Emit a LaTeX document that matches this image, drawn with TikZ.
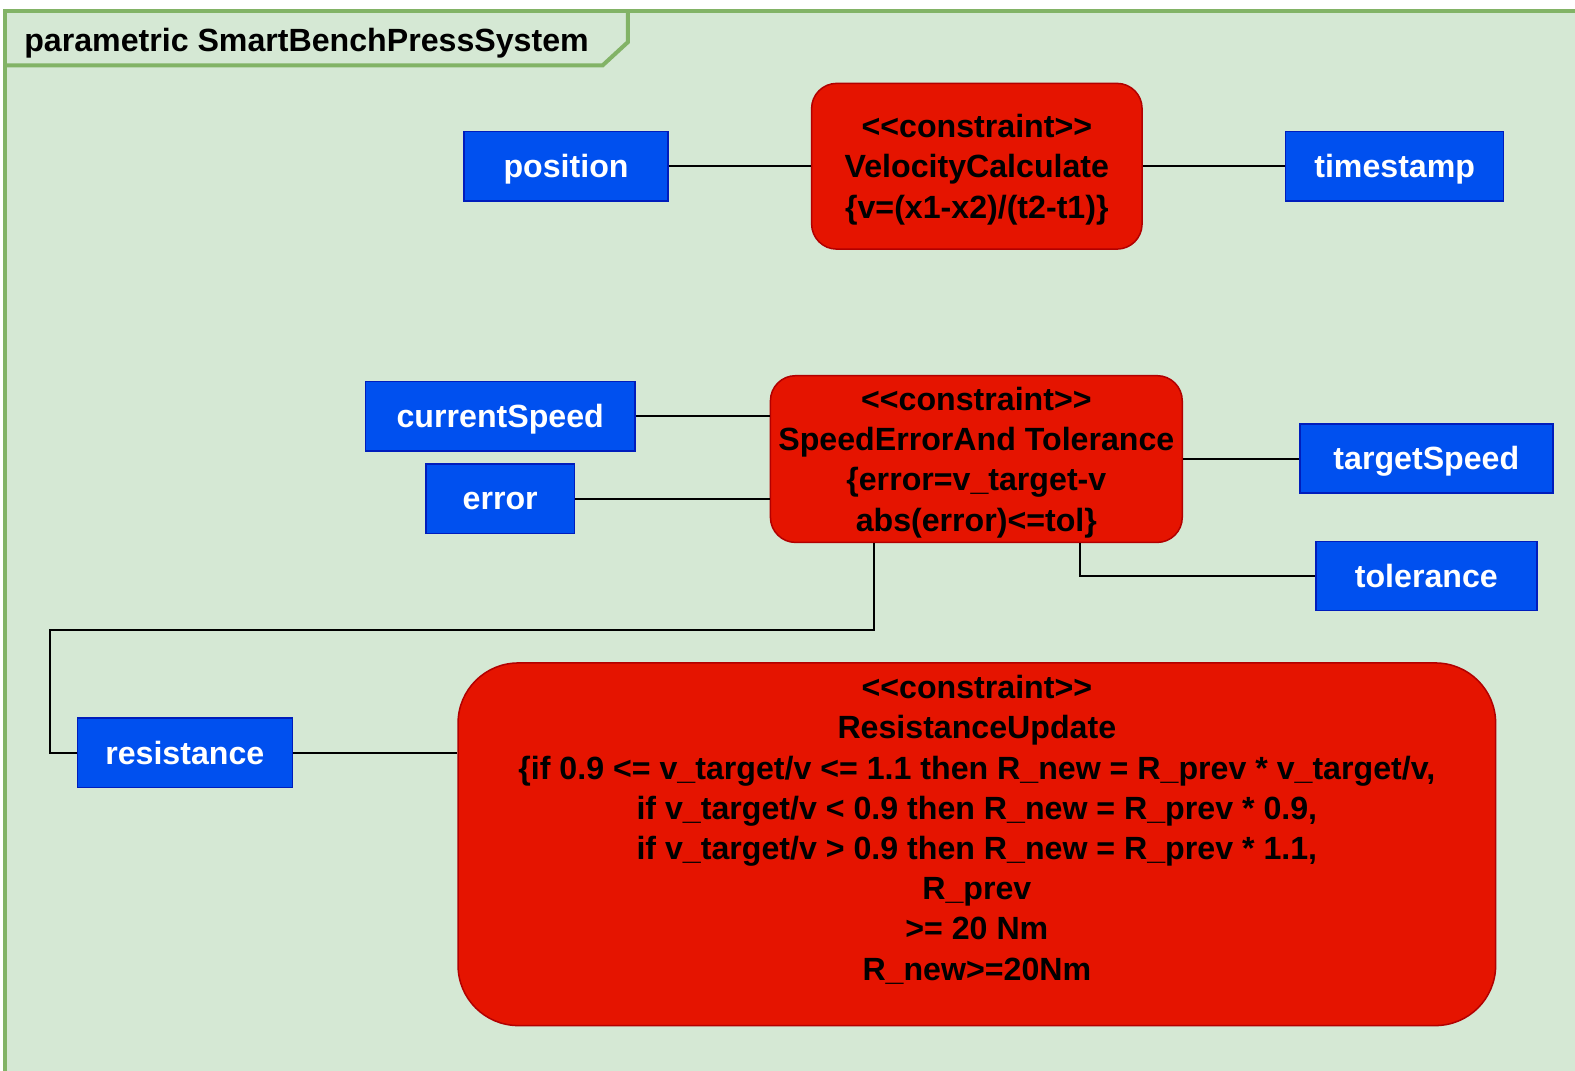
\documentclass[tikz,border=0pt]{standalone}
\usepackage{fontspec}
% plain family: no TeX ligature mapping, so << and >> stay as typed
\newfontfamily\diagfont{Liberation Sans}
\definecolor{framefill}{HTML}{D5E8D4}
\definecolor{frameline}{HTML}{82B366}
\definecolor{portfill}{HTML}{0050EF}
\definecolor{portline}{HTML}{001DBC}
\definecolor{cfill}{HTML}{E51400}
\definecolor{cline}{HTML}{B20000}
% ascent strut for the first line of a multi-line block
\newcommand\firstlinestrut{\rule{0pt}{30pt}}
\begin{document}
\begin{tikzpicture}[x=1pt,y=-1pt,
  % struts give single-line texts the font's full ascent and descent
  txt/.style={font=\diagfont\bfseries\fontsize{32}{40}\selectfont,
    execute at begin node={\rule{0pt}{29pt}},
    execute at end node={\rule[-6.8pt]{0pt}{6.8pt}}},
  multi/.style={font=\diagfont\bfseries\fontsize{32}{40}\selectfont, align=center},
  port/.style={txt, draw=portline, fill=portfill, text=white, line width=1.5pt,
    inner sep=0pt, minimum height=69pt},
  cbox/.style={multi, draw=cline, fill=cfill, text=black, line width=1.5pt,
    inner sep=0pt, rounded corners=25pt},
  conn/.style={draw=black, line width=2pt},
  frameline/.style={draw=frameline, line width=4pt}]

\useasboundingbox (0,0) rectangle (1568,1066);
\fill[white] (0,0) rectangle (1568,1066);

% diagram frame with its name tab
\begin{scope}
  \clip (0,0) rectangle (1568,1066);
  \filldraw[frameline, fill=framefill] (5,10.5) rectangle (1600,1100);
  \draw[frameline] (5,65) -- (600,65) -- (625,42) -- (625,10.5);
\end{scope}
\node[txt, anchor=west, inner sep=0pt] (title) at (24,40) {parametric SmartBenchPressSystem};

% constraint blocks
\node[cbox, minimum width=329pt, minimum height=165pt] (vel) at (972.5,165.5)
  {\firstlinestrut<<constraint>>\\VelocityCalculate\\\{v=(x1-x2)/(t2-t1)\}};
\node[cbox, minimum width=410pt, minimum height=166pt] (se) at (972,457)
  {\firstlinestrut<<constraint>>\\SpeedErrorAnd Tolerance\\\{error=v\_target-v\\abs(error)<=tol\}};
\node[cbox, rounded corners=60pt, minimum width=1033pt, minimum height=361pt] (ru) at (972.5,840.5) {};
\node[multi, inner sep=0pt] (rutext) at (972.5,826)
  {<<constraint>>\\ResistanceUpdate\\
   \{if 0.9 <= v\_target/v <= 1.1 then R\_new = R\_prev * v\_target/v,\\
   if v\_target/v < 0.9 then R\_new = R\_prev * 0.9,\\
   if v\_target/v > 0.9 then R\_new = R\_prev * 1.1,\\
   R\_prev\\>= 20 Nm\\R\_new>=20Nm};

% parameters
\node[port, minimum width=203pt] (position) at (563.5,165.5) {position};
\node[port, minimum width=217pt] (timestamp) at (1388.5,165.5) {timestamp};
\node[port, minimum width=268pt] (cur) at (498,414.5) {currentSpeed};
\node[port, minimum width=148pt] (err) at (498,496.5) {error};
\node[port, minimum width=252pt] (target) at (1420,456.5) {targetSpeed};
\node[port, minimum width=220pt] (tol) at (1420,573.5) {tolerance};
\node[port, minimum width=214pt] (res) at (184,749.5) {resistance};

\coordinate (bend) at (50,627);

% bindings
\draw[conn] (position.east) -- (vel.west);
\draw[conn] (vel.east) -- (timestamp.west);
\draw[conn] (cur.east) -- (cur.east -| se.west);
\draw[conn] (err.east) -- (err.east -| se.west);
\draw[conn] (se.east) -- (se.east -| target.west);
\draw[conn] ([xshift=103pt]se.south) |- (tol.west);
\draw[conn] ([xshift=-102pt]se.south) |- (bend) |- (res.west);
\draw[conn] (res.east) -- (res.east -| ru.west);
\end{tikzpicture}
\end{document}
